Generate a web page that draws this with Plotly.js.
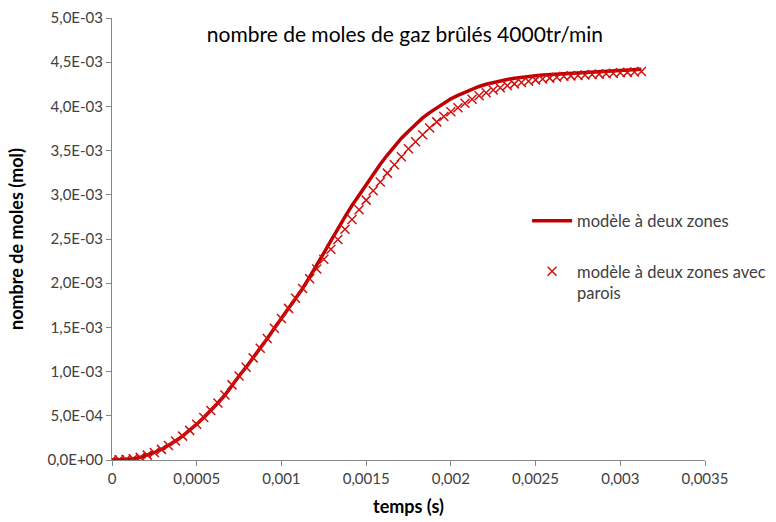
<!DOCTYPE html>
<html>
<head>
<meta charset="utf-8">
<script src="https://cdn.plot.ly/plotly-3.0.1.min.js"></script>
<style>html,body{margin:0;padding:0;background:#fff}#chart{width:776px;height:522px}</style>
</head>
<body>
<div id="chart"></div>
<script>
// time in seconds (1 degree crank angle at 4000 tr/min)
const temps = [0,4.1667e-5,8.3333e-5,1.25e-4,1.6667e-4,2.0833e-4,2.5e-4,2.9167e-4,3.3333e-4,3.75e-4,
4.1667e-4,4.5833e-4,5.0e-4,5.4167e-4,5.8333e-4,6.25e-4,6.6667e-4,7.0833e-4,7.5e-4,7.9167e-4,
8.3333e-4,8.75e-4,9.1667e-4,9.5833e-4,1.0e-3,1.04167e-3,1.08333e-3,1.125e-3,1.16667e-3,1.20833e-3,
1.25e-3,1.29167e-3,1.33333e-3,1.375e-3,1.41667e-3,1.45833e-3,1.5e-3,1.54167e-3,1.58333e-3,1.625e-3,
1.66667e-3,1.70833e-3,1.75e-3,1.79167e-3,1.83333e-3,1.875e-3,1.91667e-3,1.95833e-3,2.0e-3,2.04167e-3,
2.08333e-3,2.125e-3,2.16667e-3,2.20833e-3,2.25e-3,2.29167e-3,2.33333e-3,2.375e-3,2.41667e-3,2.45833e-3,
2.5e-3,2.54167e-3,2.58333e-3,2.625e-3,2.66667e-3,2.70833e-3,2.75e-3,2.79167e-3,2.83333e-3,2.875e-3,
2.91667e-3,2.95833e-3,3.0e-3,3.04167e-3,3.08333e-3,3.125e-3];

// modèle à deux zones (mol)
const deuxZones = [0,0.002e-3,0.006e-3,0.015e-3,0.030e-3,0.055e-3,0.085e-3,0.120e-3,0.165e-3,0.215e-3,
0.270e-3,0.335e-3,0.405e-3,0.480e-3,0.560e-3,0.645e-3,0.735e-3,0.850e-3,0.950e-3,1.050e-3,
1.155e-3,1.265e-3,1.375e-3,1.490e-3,1.600e-3,1.715e-3,1.830e-3,1.940e-3,2.070e-3,2.200e-3,
2.340e-3,2.480e-3,2.620e-3,2.750e-3,2.880e-3,3.000e-3,3.120e-3,3.235e-3,3.345e-3,3.450e-3,
3.550e-3,3.640e-3,3.720e-3,3.800e-3,3.870e-3,3.930e-3,3.985e-3,4.035e-3,4.085e-3,4.125e-3,
4.160e-3,4.195e-3,4.225e-3,4.250e-3,4.270e-3,4.290e-3,4.305e-3,4.318e-3,4.330e-3,4.340e-3,
4.348e-3,4.355e-3,4.360e-3,4.365e-3,4.370e-3,4.375e-3,4.380e-3,4.385e-3,4.390e-3,4.394e-3,
4.398e-3,4.402e-3,4.406e-3,4.410e-3,4.415e-3,4.420e-3];

// modèle à deux zones avec parois (mol)
const avecParois = [0,0.002e-3,0.006e-3,0.015e-3,0.030e-3,0.055e-3,0.085e-3,0.120e-3,0.165e-3,0.215e-3,
0.270e-3,0.335e-3,0.405e-3,0.480e-3,0.560e-3,0.645e-3,0.735e-3,0.850e-3,0.950e-3,1.050e-3,
1.155e-3,1.265e-3,1.375e-3,1.490e-3,1.600e-3,1.715e-3,1.830e-3,1.940e-3,2.050e-3,2.160e-3,
2.270e-3,2.385e-3,2.495e-3,2.610e-3,2.720e-3,2.830e-3,2.940e-3,3.045e-3,3.145e-3,3.245e-3,
3.340e-3,3.430e-3,3.520e-3,3.600e-3,3.680e-3,3.755e-3,3.825e-3,3.885e-3,3.940e-3,3.985e-3,
4.035e-3,4.080e-3,4.120e-3,4.155e-3,4.185e-3,4.210e-3,4.235e-3,4.255e-3,4.270e-3,4.285e-3,
4.300e-3,4.310e-3,4.320e-3,4.330e-3,4.340e-3,4.345e-3,4.350e-3,4.355e-3,4.360e-3,4.365e-3,
4.370e-3,4.375e-3,4.380e-3,4.385e-3,4.390e-3,4.395e-3];

const xTickVals = [0,0.0005,0.001,0.0015,0.002,0.0025,0.003,0.0035];
const xTickText = ["0","0,0005","0,001","0,0015","0,002","0,0025","0,003","0,0035"];
const yTickVals = [0,0.0005,0.001,0.0015,0.002,0.0025,0.003,0.0035,0.004,0.0045,0.005];
const yTickText = ["0,0E+00","5,0E-04","1,0E-03","1,5E-03","2,0E-03","2,5E-03","3,0E-03","3,5E-03","4,0E-03","4,5E-03","5,0E-03"];

const FONT = "Lato, 'Open Sans', sans-serif";
const txt = "#404040";
const axisCol = "#868686";

const traces = [
  {x: temps, y: deuxZones, type: "scatter", mode: "lines", name: "modèle à deux zones",
   legendgroup: "a", line: {color: "#c00000", width: 3.5}},
  {x: temps, y: avecParois, type: "scatter", mode: "markers", name: "modèle à deux zones avec<br>parois",
   legendgroup: "b", marker: {symbol: "x-thin-open", size: 9, line: {color: "#d01010", width: 1.5}, color: "#d01010"}}
];

const layout = {
  width: 776, height: 522,
  margin: {l: 112, r: 71, t: 18, b: 62, autoexpand: false},
  paper_bgcolor: "#fff", plot_bgcolor: "#fff",
  font: {family: FONT, color: txt, size: 15},
  title: {text: "nombre de moles de gaz brûlés 4000tr/min", font: {size: 21, color: "#000", family: FONT},
          x: 0.494, xanchor: "center", xref: "paper", y: 0.933, yanchor: "middle", yref: "container"},
  xaxis: {range: [0, 0.0035], tickvals: xTickVals, ticktext: xTickText, showgrid: false, zeroline: false,
          showline: true, linecolor: axisCol, linewidth: 1, ticks: "outside", ticklen: 5, tickcolor: axisCol,
          tickfont: {size: 15, color: txt}, fixedrange: true, automargin: false,
          title: {text: "<b>temps (s)</b>", font: {size: 18, color: "#000"}, standoff: 14}},
  yaxis: {range: [0, 0.005], tickvals: yTickVals, ticktext: yTickText, showgrid: false, zeroline: false,
          showline: true, linecolor: axisCol, linewidth: 1, ticks: "outside", ticklen: 5, tickcolor: axisCol,
          tickfont: {size: 15, color: txt}, fixedrange: true, automargin: false,
          title: {text: "<b>nombre de moles (mol)</b>", font: {size: 18, color: "#000"}, standoff: 19}},
  showlegend: true,
  legend: {x: 0.7, xanchor: "left", y: 0.58, yanchor: "top", bgcolor: "rgba(0,0,0,0)",
           font: {size: 16.5, color: txt, family: FONT}, tracegroupgap: 26, valign: "top", itemwidth: 40}
};

Plotly.newPlot("chart", traces, layout, {displayModeBar: false, staticPlot: true});
</script>
</body>
</html>
